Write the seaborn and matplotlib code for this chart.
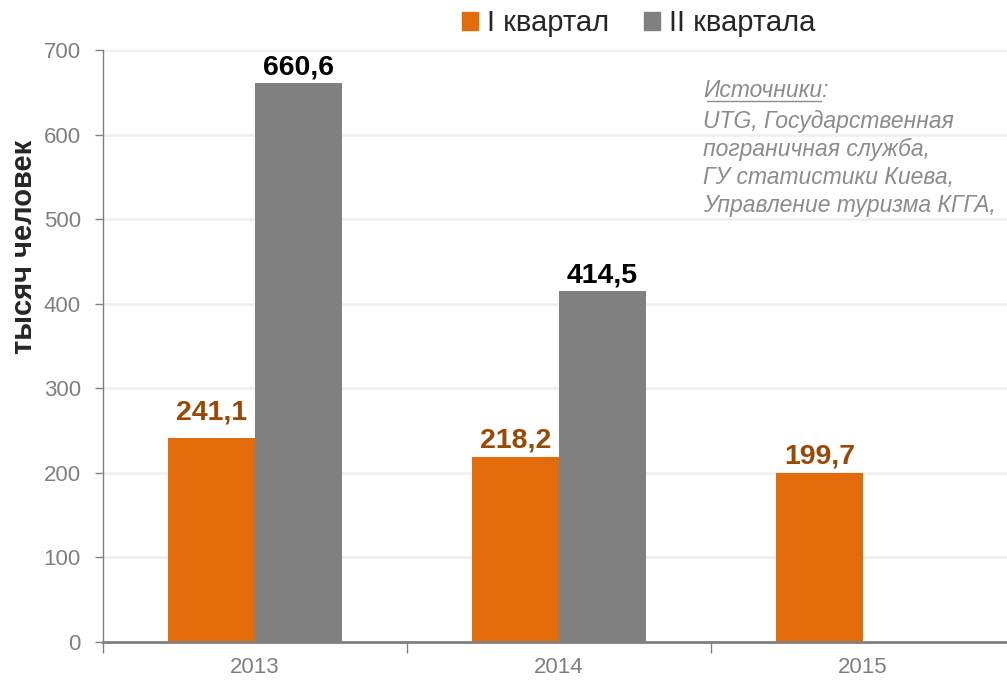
import numpy as np
import pandas as pd
import seaborn as sns
import matplotlib.pyplot as plt
from matplotlib.patches import Patch
from matplotlib.lines import Line2D

# data
years = ['2013', '2014', '2015']
q1 = [241.1, 218.2, 199.7]
q2 = [660.6, 414.5, np.nan]
series_names = ['I квартал', 'II квартала']
source_lines = ['UTG, Государственная', 'пограничная служба,',
                'ГУ статистики Киева,', 'Управление туризма КГГА,']

orange = '#E36C0A'
gray = '#808080'

sns.set_style('white')
plt.rcParams['font.family'] = ['Liberation Sans', 'DejaVu Sans']

df = pd.DataFrame({
    'year': years * 2,
    'value': q1 + q2,
    'series': [series_names[0]] * 3 + [series_names[1]] * 3,
})

fig = plt.figure(figsize=(10.07, 6.82), dpi=100)
ax = fig.add_axes([103 / 1007, 1 - 642 / 682, 912 / 1007, 592 / 682])

sns.barplot(data=df, x='year', y='value', hue='series', hue_order=series_names,
            palette=[orange, gray], width=0.57, saturation=1, ax=ax,
            legend=False, edgecolor='none')

ax.set_ylim(0, 700)
ax.set_xlim(-0.5, 2.5)
ax.set_yticks(range(0, 701, 100))
ax.yaxis.grid(True, color='#EFEFEF', linewidth=1.8)
ax.set_axisbelow(True)

for s in ['top', 'right']:
    ax.spines[s].set_visible(False)
ax.spines['left'].set_color(gray)
ax.spines['left'].set_linewidth(1)
ax.spines['bottom'].set_color(gray)
ax.spines['bottom'].set_linewidth(2)

ax.tick_params(axis='y', colors=gray, labelsize=16, length=6, width=1,
               direction='out', pad=10, left=True)
ax.tick_params(axis='x', which='major', colors=gray, labelsize=16, length=0, pad=11)
ax.set_xticks([-0.5, 0.5, 1.5, 2.5], minor=True)
ax.tick_params(axis='x', which='minor', color=gray, length=8, width=1, direction='out',
               bottom=True)
ax.set_xlabel('')
ax.set_ylabel('')

fmt = lambda v: f'{v:.1f}'.replace('.', ',')
lab_q1 = [fmt(v) for v in q1]
# the 2013 orange label sits a little higher in the reference
ax.bar_label(ax.containers[0], labels=[lab_q1[0], '', ''], padding=9,
             fontsize=20.5, fontweight='bold', color='#984807')
ax.bar_label(ax.containers[0], labels=['', lab_q1[1], lab_q1[2]], padding=2.5,
             fontsize=20.5, fontweight='bold', color='#984807')
ax.bar_label(ax.containers[1], fmt=fmt, padding=2, fontsize=20.5,
             fontweight='bold', color='black')

fig.text(24 / 1007, 1 - 247 / 682, 'тысяч человек', rotation=90, ha='center',
         va='center', fontsize=21, fontweight='bold')

handles = [Patch(color=orange), Patch(color=gray)]
fig.legend(handles, series_names, loc='center', bbox_to_anchor=(0.634, 0.966),
           ncol=2, frameon=False, fontsize=21, handlelength=0.55,
           handleheight=0.55, handletextpad=0.3, columnspacing=1.2)

# source note
src_color = '#8C8C8C'
x0 = 703 / 1007
title = fig.text(x0, 1 - 97 / 682, 'Источники:', ha='left', va='baseline',
                 fontsize=16.5, style='italic', color=src_color)
# multi-line baseline alignment uses the last line here
fig.text(x0, 1 - 212 / 682, '\n'.join(source_lines), ha='left', va='baseline',
         fontsize=16.5, style='italic', color=src_color, linespacing=1.27)

fig.canvas.draw()
bb = title.get_window_extent().transformed(fig.transFigure.inverted())
uy = 1 - 101 / 682
fig.add_artist(Line2D([bb.x0 + 0.004, bb.x1 - 0.007], [uy, uy],
                      transform=fig.transFigure, color=src_color, linewidth=1))

fig.savefig('out.png', dpi=100)
